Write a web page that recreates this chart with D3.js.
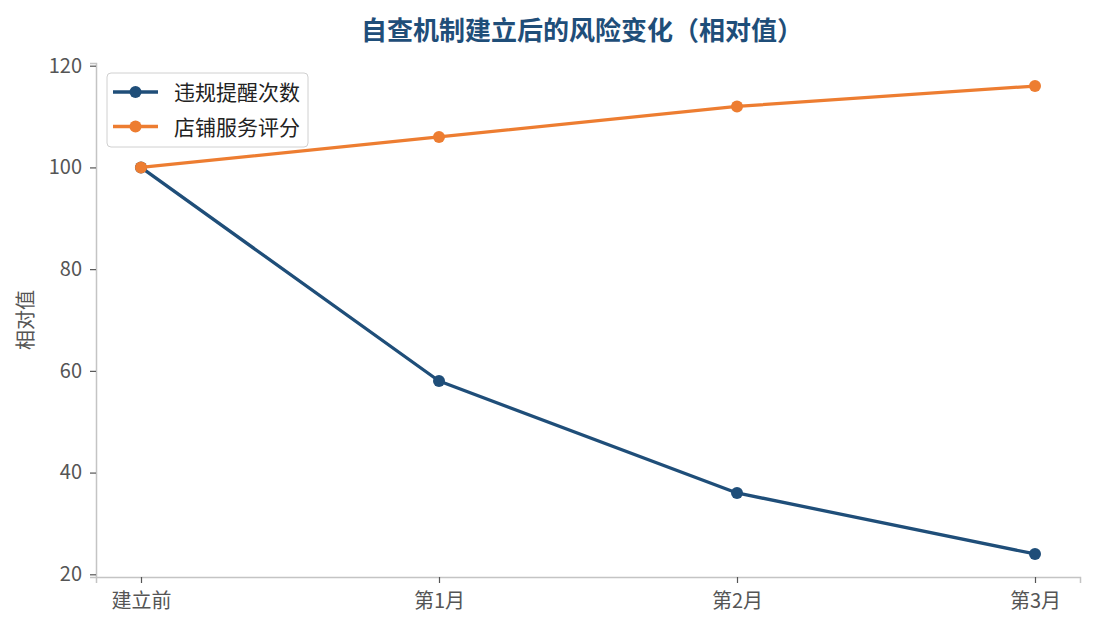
<!DOCTYPE html>
<html>
<head>
<meta charset="utf-8">
<script src="https://cdn.jsdelivr.net/npm/d3@7"></script>
<style>
  body { margin: 0; background: #fff; }
  text { font-family: "Noto Sans CJK SC", "Noto Sans", sans-serif; }
</style>
</head>
<body>
<div id="chart"></div>
<script>
// Data
const categories = ["建立前", "第1月", "第2月", "第3月"];
const violations = [100, 58, 36, 24];
const serviceScore = [100, 106, 112, 116];
const seriesNames = ["违规提醒次数", "店铺服务评分"];
const yTicks = [20, 40, 60, 80, 100, 120];

const colors = ["#1f4e79", "#ed7d31"];

const width = 1095, height = 630;
const margin = { top: 63, right: 15, bottom: 53, left: 96 };

const svg = d3.select("#chart")
  .append("svg")
  .attr("width", width)
  .attr("height", height);

const x = d3.scalePoint()
  .domain(categories)
  .range([margin.left, width - margin.right])
  .padding(0.151);

const y = d3.scaleLinear()
  .domain([19.47, 120.53])
  .range([height - margin.bottom, margin.top]);

// Title
svg.append("text")
  .attr("x", 582)
  .attr("y", 40)
  .attr("text-anchor", "middle")
  .attr("font-size", "26px")
  .attr("font-weight", "bold")
  .attr("fill", "#1f4e79")
  .text("自查机制建立后的风险变化（相对值）");

// Axes
const xAxis = svg.append("g")
  .attr("transform", `translate(0,${height - margin.bottom})`)
  .call(d3.axisBottom(x).tickSize(6).tickPadding(11));

const yAxis = svg.append("g")
  .attr("transform", `translate(${margin.left},0)`)
  .call(d3.axisLeft(y).tickValues(yTicks).tickSize(6).tickPadding(8));

[xAxis, yAxis].forEach(g => {
  g.select(".domain").attr("stroke", "#c4c4c4").attr("stroke-width", 1.5);
  g.selectAll(".tick line").attr("stroke", "#555").attr("stroke-width", 1.2);
  g.selectAll(".tick text")
    .attr("fill", "#555")
    .attr("font-size", "20px")
    .style("font-family", "'Noto Sans CJK SC', 'Noto Sans', sans-serif");
});

// Y label
svg.append("text")
  .attr("transform", "translate(33,320) rotate(-90)")
  .attr("text-anchor", "middle")
  .attr("font-size", "20px")
  .attr("fill", "#555")
  .text("相对值");

// Lines
const series = [violations, serviceScore];
const line = d3.line()
  .x((d, i) => x(categories[i]))
  .y(d => y(d));

series.forEach((values, s) => {
  svg.append("path")
    .datum(values)
    .attr("fill", "none")
    .attr("stroke", colors[s])
    .attr("stroke-width", 3.3)
    .attr("stroke-linejoin", "round")
    .attr("d", line);

  svg.selectAll(".dot-" + s)
    .data(values)
    .join("circle")
    .attr("class", "dot-" + s)
    .attr("cx", (d, i) => x(categories[i]))
    .attr("cy", d => y(d))
    .attr("r", 6)
    .attr("fill", colors[s]);
});

// Legend
const legend = svg.append("g").attr("class", "legend");

legend.append("rect")
  .attr("x", 107)
  .attr("y", 73)
  .attr("width", 201)
  .attr("height", 74)
  .attr("rx", 4)
  .attr("fill", "#fff")
  .attr("fill-opacity", 0.85)
  .attr("stroke", "#d0d0d0")
  .attr("stroke-width", 1);

seriesNames.forEach((name, i) => {
  const ly = 92 + i * 34.5;
  legend.append("line")
    .attr("x1", 113)
    .attr("x2", 158)
    .attr("y1", ly)
    .attr("y2", ly)
    .attr("stroke", colors[i])
    .attr("stroke-width", 3.3);

  legend.append("circle")
    .attr("cx", 135.5)
    .attr("cy", ly)
    .attr("r", 6)
    .attr("fill", colors[i]);

  legend.append("text")
    .attr("x", 174)
    .attr("y", ly + 8)
    .attr("font-size", "21px")
    .attr("fill", "#222")
    .text(name);
});
</script>
</body>
</html>
